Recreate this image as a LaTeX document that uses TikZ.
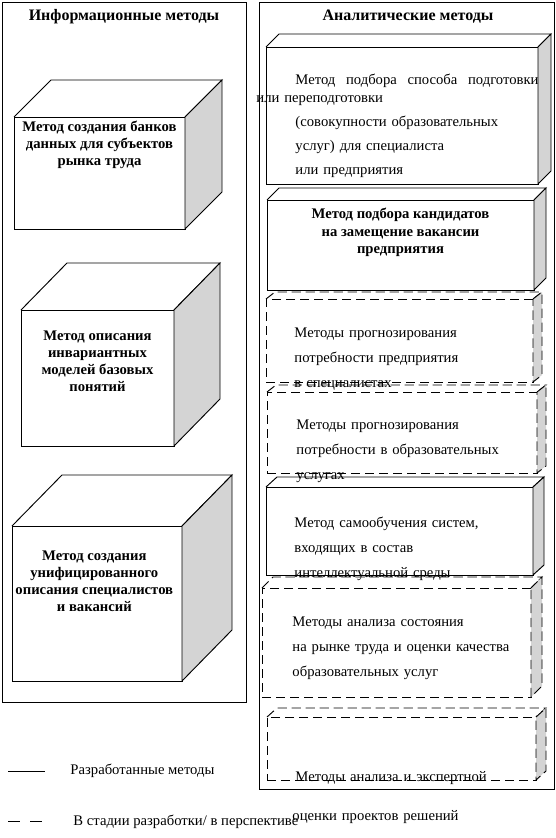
\documentclass[tikz,border=0pt]{standalone}
\usepackage{fontspec}
\setmainfont{Liberation Serif}
\definecolor{sidegray}{HTML}{D4D4D4}
\usetikzlibrary{calc,positioning}

\newcommand{\drawdepth}[4][]{%
  \draw[#1] (#2.north west) -- ++(#3,-#4) -- ($(#2.north east)+(#3,-#4)$) -- (#2.north east);
  \draw[#1,fill=sidegray] (#2.north east) -- ($(#2.north east)+(#3,-#4)$)
    -- ($(#2.south east)+(#3,-#4)$) -- (#2.south east) -- cycle;}

\begin{document}
\begin{tikzpicture}[x=0.75pt,y=-0.75pt,line width=0.7pt,
    dashline/.style={dash pattern=on 7pt off 3.5pt},
    face/.style={rectangle,draw,outer sep=0pt,inner sep=0pt,anchor=north west},
    dashface/.style={face,dashline},
    facesize/.style 2 args={minimum width=#1*0.75pt,minimum height=#2*0.75pt},
    title/.style={inner sep=0pt,font=\fontsize{12}{14}\selectfont\bfseries},
    cubetext/.style={align=center,inner sep=0pt,anchor=north,
                     font=\fontsize{11}{12.75}\selectfont\bfseries},
    methodtext/.style={align=left,inner sep=0pt,anchor=base west,text width=200pt,
                       font=\fontsize{11}{18.75}\selectfont},
    legendtext/.style={inner sep=0pt,anchor=west,font=\fontsize{11}{13}\selectfont}]
  \useasboundingbox (0,0) rectangle (556,838);

  \draw (2,2) rectangle (246,702);
  \draw (259,2) rectangle (554,789);
  \node[title] (infotitle) at (124,17) {Информационные методы};
  \node[title] (analtitle) at (408,17) {Аналитические методы};

  \node[face,facesize={171}{112}] (bank) at (14,117) {};
  \drawdepth{bank}{37}{37}
  \node[cubetext,below=3pt of bank.north] (banktext) {Метод создания банков\\
    данных для субъектов\\рынка труда};

  \node[face,facesize={153}{136}] (invar) at (21,310) {};
  \drawdepth{invar}{46}{47}
  \node[cubetext,below=15pt of invar.north] (invartext) {Метод описания\\
    инвариантных\\моделей базовых\\понятий};

  \node[face,facesize={170}{155}] (unif) at (12,526) {};
  \drawdepth{unif}{50}{51}
  \node[cubetext,below=18pt of unif.north,xshift=-2pt] (uniftext) {Метод создания\\
    унифицированного\\описания специалистов\\и вакансий};

  \node[face,facesize={272}{137}] (train) at (266,47) {};
  \drawdepth{train}{13}{13}
  \node[methodtext,text width=211.5pt,font=\fontsize{11}{13.5}\selectfont] (traintext) at (256,85)
    {\hspace*{29.25pt}\hbox to 182.25pt{Метод\hfill подбора\hfill способа\hfill подготовки}\\
     или переподготовки\\[4.5pt]
     \hspace*{29.25pt}(совокупности образовательных\\[4.5pt]
     \hspace*{29.25pt}услуг) для специалиста\\[4.5pt]
     \hspace*{29.25pt}или предприятия};

  \node[face,facesize={267}{90}] (cand) at (267,200) {};
  \drawdepth{cand}{12}{12}
  \node[cubetext,below=6pt of cand.north,font=\fontsize{11}{13.1}\selectfont\bfseries] (candtext)
    {Метод подбора кандидатов\\на замещение вакансии\\предприятия};

  \node[dashface,facesize={267}{83}] (needent) at (266,299) {};
  \drawdepth[dashline]{needent}{9}{7}
  \node[methodtext] (needenttext) at (294,337) {Методы прогнозирования\\
    потребности предприятия\\в специалистах};

  \node[dashface,facesize={270}{81}] (neededu) at (267,392) {};
  \drawdepth[dashline]{neededu}{9}{7}
  \node[methodtext] (neededutext) at (296,429) {Методы прогнозирования\\
    потребности в образовательных\\услугах};

  \node[face,facesize={267}{88}] (selflearn) at (266,487) {};
  \drawdepth{selflearn}{11}{10}
  \node[methodtext] (selflearntext) at (294,527) {Метод самообучения систем,\\
    входящих в состав\\интеллектуальной среды};

  \node[dashface,facesize={269}{109}] (market) at (262,588) {};
  \drawdepth[dashline]{market}{11}{11}
  \node[methodtext] (markettext) at (292,626) {Методы анализа состояния\\
    на рынке труда и оценки качества\\образовательных услуг};

  \node[dashface,facesize={269}{63}] (expert) at (267,717) {};
  \drawdepth[dashline]{expert}{10}{9}
  \node[methodtext] (experttext) at (295,781) {Методы анализа и экспертной\\[10.5pt]
    \hspace*{-2.25pt}оценки проектов решений};

  \coordinate (solidA) at (8,771);
  \coordinate (solidB) at (45,771);
  \coordinate (dashA) at (8,821);
  \coordinate (dashB) at (42,821);
  \draw (solidA) -- (solidB);
  \draw[dash pattern=on 9pt off 7.5pt] (dashA) -- (dashB);
  \node[legendtext] (donelabel) at (70,771) {Разработанные методы};
  \node[legendtext] (planlabel) at (73,822) {В стадии разработки/ в перспективе};
\end{tikzpicture}
\end{document}
